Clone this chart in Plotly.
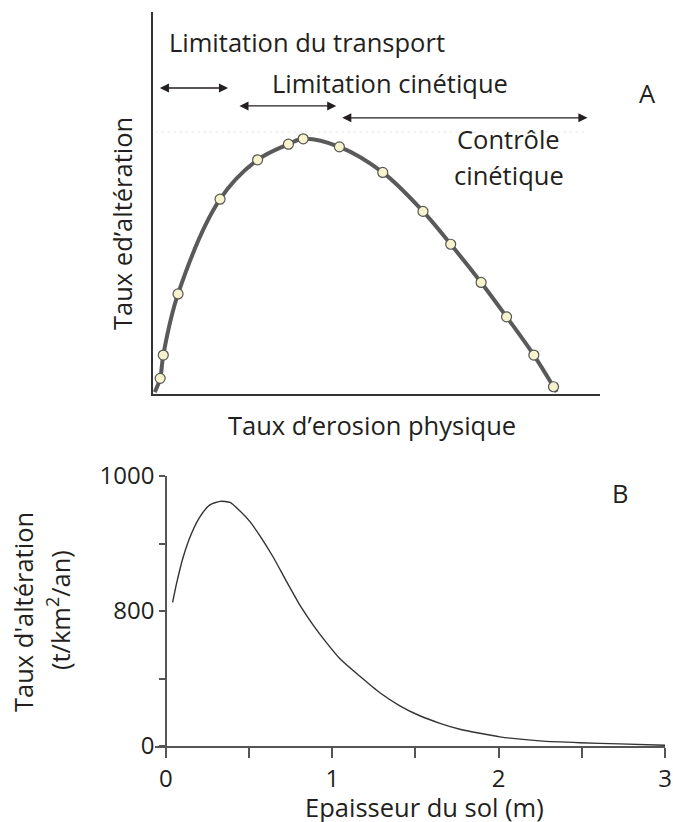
import plotly.graph_objects as go

W, H = 673, 822

# Panel A: erosion rate vs weathering rate (arbitrary units, 0-100)
erosion = [1.6, 2.3, 5.6, 15.0, 23.4, 30.3, 33.6, 41.7, 51.4, 60.4, 66.6, 73.4, 79.1, 85.2, 89.6]
alteration = [4.1, 10.2, 26.2, 51.0, 61.3, 65.4, 66.8, 64.7, 58.0, 47.8, 39.2, 29.2, 20.2, 10.2, 1.9]
curve_x = [0.4] + erosion + [90.3]
curve_y = [0.5] + alteration + [0.5]

# Panel B: soil thickness (m) vs weathering rate (plotted on the figure's own scale)
epaisseur = [0.04, 0.064, 0.104, 0.154, 0.204, 0.264, 0.325, 0.385, 0.445, 0.505, 0.565, 0.645,
             0.725, 0.805, 0.885, 0.966, 1.046, 1.166, 1.286, 1.406, 1.526, 1.647, 1.767, 1.887,
             2.007, 2.248, 2.488, 2.728, 3.0]
taux = [532, 603, 701, 788, 849, 893, 906, 902, 870, 831, 778, 699,
        609, 522, 448, 382, 323, 258, 197, 149, 112, 84, 62, 47,
        34, 19, 12, 8, 3]
b_tickvals = [0, 250, 500, 750, 1000]
b_ticktext = ["0", "", "800", "", "1000"]
x_tickvals = [0, 0.5, 1, 1.5, 2, 2.5, 3]
x_ticktext = ["0", "", "1", "", "2", "", "3"]

FONT = "Open Sans"
TXT = "#231f20"
FS = 25.5

def px(x):
    return x / W

def py(y):
    return 1 - y / H

fig = go.Figure()

# panel A
fig.add_trace(go.Scatter(x=curve_x, y=curve_y, mode="lines",
                         line=dict(color="#5a5a5a", width=4, shape="spline", smoothing=1.0),
                         xaxis="x", yaxis="y", hoverinfo="skip"))
fig.add_trace(go.Scatter(x=erosion, y=alteration, mode="markers",
                         marker=dict(size=10, color="#f6f3cd", line=dict(color="#555", width=1.2)),
                         xaxis="x", yaxis="y"))

# panel B
fig.add_trace(go.Scatter(x=epaisseur, y=taux, mode="lines",
                         line=dict(color="#333", width=1.4, shape="spline", smoothing=0.6),
                         xaxis="x2", yaxis="y2"))

ann = []

def label(text, x, y, size=FS, **kw):
    ann.append(dict(text=text, x=px(x), y=py(y), xref="paper", yref="paper", showarrow=False,
                    xanchor="center", yanchor="middle",
                    font=dict(size=size, color=TXT, family=FONT), **kw))

def arrow(x0, x1, y):
    ann.append(dict(x=x1, y=y, ax=x0, ay=y, xref="x", yref="y", axref="x", ayref="y",
                    text="", showarrow=True, arrowhead=2, startarrowhead=2, arrowside="end+start",
                    arrowsize=1.4, startarrowsize=1.4, arrowwidth=1.3, arrowcolor=TXT))

label("Limitation du transport", 307, 42)
label("Limitation cinétique", 390, 83)
label("Contrôle", 508, 139)
label("cinétique", 509, 175)
label("A", 647, 93)
label("Taux ed’altération", 122, 224, textangle=-90)
label("Taux d’erosion physique", 372, 425)

# arrows in data units of panel A
arrow(1.2, 16.8, 80.1)
arrow(19.0, 41.0, 75.4)
arrow(42.0, 97.2, 72.3)

label("B", 620, 493)
label("Taux d'altération", 23, 612, textangle=-90)
label("(t/km<sup>2</sup>/an)", 58, 610, textangle=-90)
label("Epaisseur du sol (m)", 424, 807)

fig.update_layout(
    width=W, height=H, margin=dict(l=0, r=0, t=0, b=0, autoexpand=False),
    paper_bgcolor="white", plot_bgcolor="white", showlegend=False,
    font=dict(family=FONT, color=TXT),
    annotations=ann,
    shapes=[dict(type="line", xref="x", yref="y", x0=0.5, x1=97, y0=68.6, y1=68.6,
                 line=dict(color="#e8e8e8", width=1, dash="dot"))],
    xaxis=dict(domain=[px(153), px(600)], range=[0, 100], anchor="y", automargin=False,
               showline=True, linecolor="#333", linewidth=2, showgrid=False,
               zeroline=False, showticklabels=False, ticks=""),
    yaxis=dict(domain=[py(394), py(12)], range=[0, 100], anchor="x", automargin=False,
               showline=True, linecolor="#333", linewidth=2, showgrid=False,
               zeroline=False, showticklabels=False, ticks=""),
    xaxis2=dict(domain=[px(155), px(665)], range=[-0.066, 3], anchor="y2", automargin=False,
                showline=True, linecolor="#555", linewidth=1.5, showgrid=False, zeroline=False,
                tickvals=x_tickvals, ticktext=x_ticktext, ticks="outside", ticklen=10,
                tickcolor="#555", tickwidth=1.5, tickfont=dict(size=24, color=TXT, family=FONT)),
    yaxis2=dict(domain=[py(746), py(476)], range=[0, 1000], anchor="free", position=px(166),
                automargin=False,
                showline=True, linecolor="#555", linewidth=1.5, showgrid=False, zeroline=False,
                tickvals=b_tickvals, ticktext=b_ticktext, ticks="outside", ticklen=6,
                tickcolor="#555", tickwidth=1.5, tickfont=dict(size=24, color=TXT, family=FONT)),
)

# drop the page's default body margin so the figure sits at the window's top-left corner
fig.write_html("out.html", config={"displayModeBar": False},
               post_script="document.body.style.margin='0';")
